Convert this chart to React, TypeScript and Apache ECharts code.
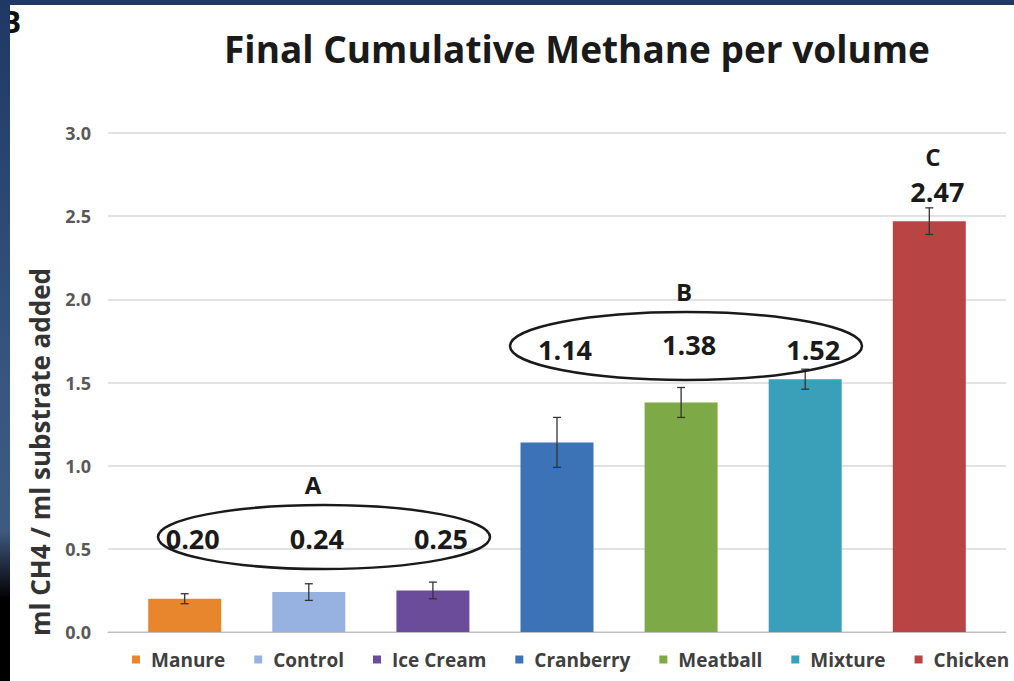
import React, { useEffect, useRef } from 'react';
import * as echarts from 'echarts';

const categories = ['Manure', 'Control', 'Ice Cream', 'Cranberry', 'Meatball', 'Mixture', 'Chicken'];
const values = [0.2, 0.24, 0.25, 1.14, 1.38, 1.52, 2.47];
const errors = [0.03, 0.05, 0.05, 0.15, 0.09, 0.06, 0.08];
const colors = ['#E8862E', '#97B2E0', '#6B4C9A', '#3C72B6', '#7DAA47', '#3A9FB8', '#B84444'];
// value (in axis units) at which each bar's number is written
const labelLevels = [0.56, 0.56, 0.56, 1.7, 1.73, 1.7, 2.65];
const yTicks = [0, 0.5, 1.0, 1.5, 2.0, 2.5, 3.0];
const groupLetters = ['A', 'B', 'C'];
const titleText = 'Final Cumulative Methane per volume';
const yAxisTitle = 'ml CH4 / ml substrate added';

const FONT = '"Open Sans", "Noto Sans", sans-serif';
const BAR_W = 73;
const BAR_GAP = 0.7;

export default function App() {
  const ref = useRef<HTMLDivElement>(null);

  useEffect(() => {
    if (!ref.current) return;
    const chart = echarts.init(ref.current, undefined, { renderer: 'svg' });
    const n = categories.length;

    const barSeries = categories.map((name, i) => ({
      name,
      type: 'bar',
      data: [values[i]],
      barWidth: BAR_W,
      barGap: `${BAR_GAP * 100}%`,
      itemStyle: { color: colors[i] },
      z: 2,
    }));

    const errData = values.map((v, i) => [0, v, errors[i], i]);

    const option: any = {
      animation: false,
      backgroundColor: '#ffffff',
      title: {
        text: titleText,
        left: 572,
        top: 25,
        textAlign: 'center',
        textStyle: { fontFamily: FONT, fontWeight: 'bold', fontSize: 37, color: '#1a1a1a' },
      },
      grid: { left: 108, right: 8, top: 133, bottom: 49, containLabel: false },
      legend: {
        data: categories,
        left: 132,
        top: 650,
        width: 882,
        padding: 0,
        icon: 'rect',
        itemWidth: 8,
        itemHeight: 8,
        itemGap: 29,
        textStyle: { fontFamily: FONT, fontWeight: 'bold', fontSize: 19, color: '#404040', padding: [0, 0, 0, 6] },
      },
      xAxis: {
        type: 'category',
        data: ['Final'],
        axisLabel: { show: false },
        axisTick: { show: false },
        axisLine: { lineStyle: { color: '#bfbfbf', width: 1 } },
      },
      yAxis: {
        type: 'value',
        min: yTicks[0],
        max: yTicks[yTicks.length - 1],
        interval: yTicks[1] - yTicks[0],
        axisLabel: {
          formatter: (v: number) => `{t|${v.toFixed(1)}}`,
          margin: 17,
          rich: {
            t: {
              fontFamily: FONT,
              fontWeight: 'bold',
              fontSize: 18,
              color: '#595959',
            },
          },
        },
        axisLine: { show: false },
        axisTick: { show: false },
        splitLine: { lineStyle: { color: '#d9d9d9', width: 1.5 } },
      },
      series: [
        ...barSeries,
        {
          type: 'custom',
          name: 'err',
          data: errData,
          encode: { x: 0, y: 1 },
          z: 5,
          renderItem: (params: any, api: any) => {
            const v = api.value(1);
            const e = api.value(2);
            const i = api.value(3);
            const c = api.coord([0, v]);
            const x = c[0] + (i - (n - 1) / 2) * BAR_W * (1 + BAR_GAP);
            const yTop = api.coord([0, v + e])[1];
            const yBot = api.coord([0, v - e])[1];
            const yLab = api.coord([0, labelLevels[i]])[1];
            const st = { stroke: '#333333', lineWidth: 1.3 };
            return {
              type: 'group',
              children: [
                { type: 'line', shape: { x1: x, y1: yTop, x2: x, y2: yBot }, style: st },
                { type: 'line', shape: { x1: x - 4, y1: yTop, x2: x + 4, y2: yTop }, style: st },
                { type: 'line', shape: { x1: x - 4, y1: yBot, x2: x + 4, y2: yBot }, style: st },
                {
                  type: 'text',
                  x: x + 8,
                  y: yLab,
                  style: {
                    text: values[i].toFixed(2),
                    font: `bold 27px ${FONT}`,
                    fill: '#1a1a1a',
                    align: 'center',
                    verticalAlign: 'middle',
                    textAlign: 'center',
                    textVerticalAlign: 'middle',
                  },
                },
              ],
            };
          },
        },
      ],
      graphic: [
        {
          type: 'ellipse',
          shape: { cx: 324, cy: 537, rx: 166, ry: 32 },
          style: { fill: 'none', stroke: '#1a1a1a', lineWidth: 2.5 },
          z: 10,
        },
        {
          type: 'ellipse',
          shape: { cx: 686, cy: 346, rx: 176, ry: 34 },
          style: { fill: 'none', stroke: '#1a1a1a', lineWidth: 2.5 },
          z: 10,
        },
        ...[[313, 484], [684, 291], [933, 156]].map((p, k) => ({
          type: 'text',
          x: p[0],
          y: p[1],
          z: 10,
          style: {
            text: groupLetters[k],
            font: `bold 24px ${FONT}`,
            fill: '#1a1a1a',
            textAlign: 'center',
            textVerticalAlign: 'middle',
            align: 'center',
            verticalAlign: 'middle',
          },
        })),
        {
          type: 'text',
          x: 40,
          y: 452,
          rotation: Math.PI / 2,
          z: 10,
          style: {
            text: yAxisTitle,
            font: `bold 26px ${FONT}`,
            fill: '#333333',
            textAlign: 'center',
            textVerticalAlign: 'middle',
            align: 'center',
            verticalAlign: 'middle',
          },
        },
        {
          type: 'text',
          x: 1,
          y: 21,
          z: 10,
          style: {
            text: 'B',
            font: `bold 30px ${FONT}`,
            fill: '#111111',
            textVerticalAlign: 'middle',
            verticalAlign: 'middle',
          },
        },
        {
          type: 'rect',
          shape: { x: 0, y: 0, width: 10, height: 681 },
          z: 20,
          style: {
            fill: new echarts.graphic.LinearGradient(0, 0, 0, 1, [
              { offset: 0, color: '#1f3864' },
              { offset: 0.55, color: '#37557f' },
              { offset: 0.78, color: '#3e5a80' },
              { offset: 0.84, color: '#1a2233' },
              { offset: 0.88, color: '#000000' },
              { offset: 1, color: '#000000' },
            ]),
          },
        },
        {
          type: 'rect',
          shape: { x: 0, y: 0, width: 1014, height: 5 },
          z: 20,
          style: { fill: '#1f3864' },
        },
      ],
    };

    chart.setOption(option);
    return () => chart.dispose();
  }, []);

  return (
    <div
      ref={ref}
      style={{ position: 'fixed', left: 0, top: 0, width: 1014, height: 681, background: '#fff' }}
    />
  );
}
